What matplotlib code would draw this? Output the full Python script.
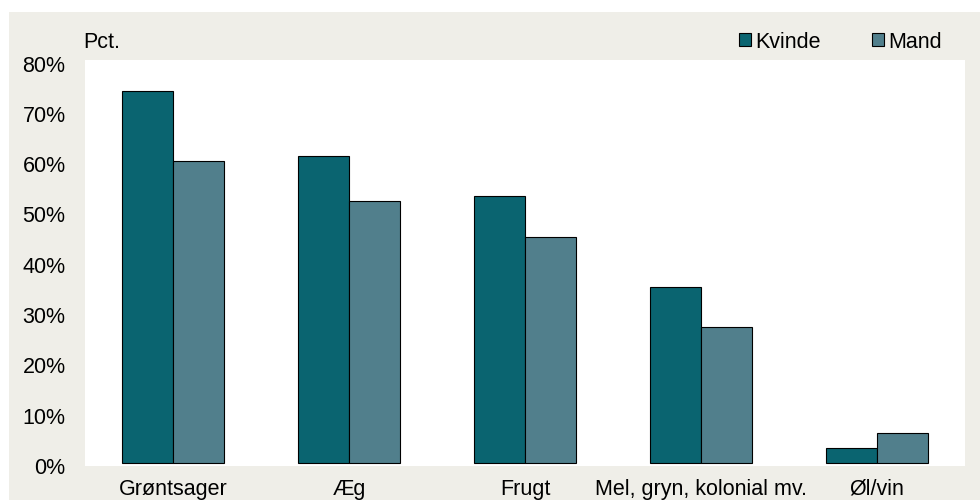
import matplotlib
matplotlib.use("Agg")
import matplotlib.pyplot as plt
from matplotlib.patches import Rectangle, Patch
import matplotlib.transforms as mtransforms
import numpy as np

plt.rcParams['font.family'] = ['Liberation Sans', 'DejaVu Sans']

categories = ["Grøntsager", "Æg", "Frugt", "Mel, gryn, kolonial mv.", "Øl/vin"]
kvinde = [74, 61, 53, 35, 3]
mand = [60, 52, 45, 27, 6]
yticks = [0, 10, 20, 30, 40, 50, 60, 70, 80]
ytick_labels = ["0%", "10%", "20%", "30%", "40%", "50%", "60%", "70%", "80%"]

c_k = "#0A6470"
c_m = "#517F8C"
bg = "#EFEEE8"
fs = 15.5

W, H = 980, 500
fig = plt.figure(figsize=(W/100, H/100), dpi=100, facecolor="white")
fig.patches.append(Rectangle((9/W, 0), 1 - 9/W, 1 - 12/H, transform=fig.transFigure,
                             facecolor=bg, edgecolor="none", zorder=-10))

ax = fig.add_axes([85/W, 1 - 466/H, 880/W, 406/H])
ax.set_facecolor("white")
x = np.arange(len(categories))
bw = 0.287
ax.bar(x - bw/2, kvinde, bw, color=c_k, edgecolor="black", linewidth=0.8, label="Kvinde")
ax.bar(x + bw/2, mand, bw, color=c_m, edgecolor="black", linewidth=0.8, label="Mand")
ax.set_xlim(-0.5, 4.5)
ax.set_ylim(-0.6, 80.1)
for s in ax.spines.values():
    s.set_visible(False)
ax.set_yticks(yticks)
ax.set_yticklabels(ytick_labels, fontsize=fs)
ax.tick_params(axis='y', length=0, pad=14)
ax.tick_params(axis='x', length=0, pad=9)
ax.set_xticks(x)
ax.set_xticklabels(categories, fontsize=fs)
off = mtransforms.ScaledTranslation(0, -3/100, fig.dpi_scale_trans)
for lbl in ax.get_yticklabels():
    lbl.set_transform(lbl.get_transform() + off)

fig.text(83/W, 1 - 43/H, "Pct.", fontsize=fs, va="center", ha="left")

handles = [Patch(facecolor=c_k, edgecolor="black", linewidth=0.8),
           Patch(facecolor=c_m, edgecolor="black", linewidth=0.8)]
fig.legend(handles, ["Kvinde", "Mand"], loc="center left",
           bbox_to_anchor=(739/W, 1 - 42/H), ncol=2, frameon=False,
           fontsize=fs, handlelength=0.55, handleheight=0.55,
           handletextpad=0.2, columnspacing=2.4, borderpad=0, borderaxespad=0)

fig.savefig("out.png", dpi=100, facecolor=fig.get_facecolor())
